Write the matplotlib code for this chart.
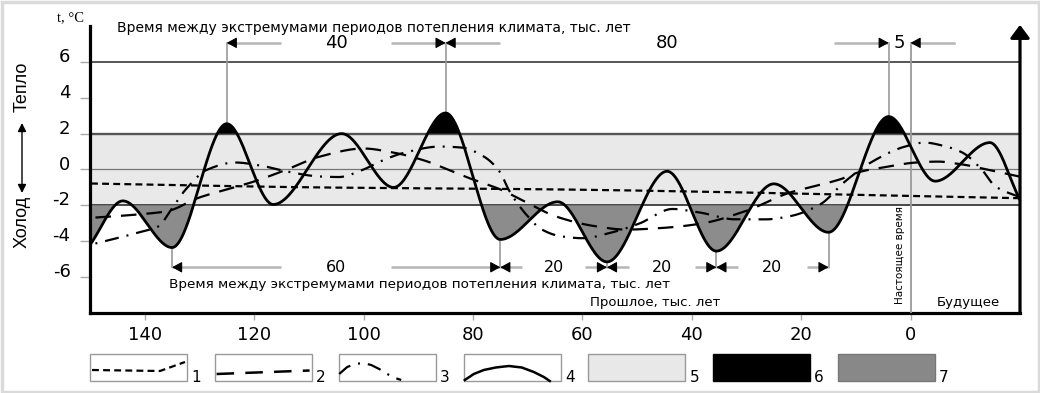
# Колебания температуры за последние 150 тыс. лет и прогноз на 20 тыс. лет вперёд

import numpy as np
import matplotlib
matplotlib.use('Agg')
import matplotlib.pyplot as plt
from matplotlib.patches import Rectangle
from matplotlib.transforms import ScaledTranslation

plt.rcParams['font.family'] = ['DejaVu Sans']

# Данные, снятые с исходного рисунка (тыс. лет назад, °C)
# 4 - сплошная кривая
age_4 = [150, 144, 135, 125, 116.5, 104, 94.5, 85, 75, 64.5, 55.5, 44.5, 35.5, 25, 15, 4, -4.5, -14.5, -20]
temp_4 = [-4.2, -1.75, -4.35, 2.55, -1.95, 2.0, -1.0, 3.15, -3.9, -1.8, -5.15, -0.1, -4.55, -0.8, -3.5, 2.95, -0.65, 1.5, -1.7]

# 1 - короткий пунктир
age_1 = [150, 108, 65, 22, -20]
temp_1 = [-0.78, -1.0, -1.11, -1.33, -1.6]

# 2 - длинный пунктир
age_2 = [150, 141, 136, 130, 125, 120, 114, 108, 100, 94.5, 89.5, 80, 75, 69.5, 65, 57.5, 52, 45, 38, 30, 22, 18.5, 13, 9, 4, -1, -5, -9.5, -14, -20]
temp_2 = [-2.7, -2.5, -2.33, -1.56, -1.11, -0.67, 0.0, 0.72, 1.17, 0.94, 0.56, -0.56, -1.11, -1.94, -2.6, -3.17, -3.35, -3.25, -3.0, -2.3, -1.28, -1.0, -0.56, -0.11, 0.17, 0.39, 0.44, 0.28, 0.0, -0.4]

# 3 - штрихпунктир
age_3 = [150, 141, 137.5, 135, 132.5, 128.5, 123.5, 118, 114, 108, 104.5, 100, 97, 92.5, 86, 82, 78, 75, 73.5, 72, 70, 67.5, 64, 60, 54.5, 49.5, 43.5, 38.5, 32, 26.5, 22, 16.5, 12, 7, 1, -2.5, -6.5, -9.5, -13, -15.5, -20]
temp_3 = [-4.2, -3.5, -3.17, -2.17, -1.11, 0.0, 0.39, 0.17, -0.11, -0.39, -0.42, 0.0, 0.44, 0.94, 1.28, 1.22, 0.72, -0.17, -1.11, -1.83, -2.6, -3.33, -3.72, -3.83, -3.5, -3.0, -2.2, -2.4, -2.78, -2.78, -2.6, -1.94, -0.67, 0.44, 1.28, 1.5, 1.28, 0.94, 0.0, -0.94, -1.55]

# Экстремумы, между которыми проставлены интервалы
warm_ages = [125, 85, 4]
warm_labels = ['40', '80', '5']
cold_ages = [135, 75, 55.5, 35.5, 15]
cold_labels = ['60', '20', '20', '20']

x_ticks = [140, 120, 100, 80, 60, 40, 20, 0]
y_ticks = [6, 4, 2, 0, -2, -4, -6]

legend_labels = ['1', '2', '3', '4', '5', '6', '7']


def smooth(ages, temps, grid):
    # монотонный кубический сплайн (PCHIP) - только чтобы кривая рисовалась плавно
    x = np.asarray(ages, float)[::-1]
    y = np.asarray(temps, float)[::-1]
    h = np.diff(x)
    d = np.diff(y) / h
    m = np.zeros_like(y)
    for k in range(1, len(x) - 1):
        if d[k - 1] * d[k] > 0:
            w1 = 2 * h[k] + h[k - 1]
            w2 = h[k] + 2 * h[k - 1]
            m[k] = (w1 + w2) / (w1 / d[k - 1] + w2 / d[k])
    m[0] = d[0]
    m[-1] = d[-1]
    i = np.clip(np.searchsorted(x, grid) - 1, 0, len(h) - 1)
    t = (grid - x[i]) / h[i]
    return ((2 * t**3 - 3 * t**2 + 1) * y[i] + (t**3 - 2 * t**2 + t) * h[i] * m[i]
            + (-2 * t**3 + 3 * t**2) * y[i + 1] + (t**3 - t**2) * h[i] * m[i + 1])


W, H = 1040, 393
fig = plt.figure(figsize=(W / 100, H / 100), dpi=100)
ax = fig.add_axes([90 / W, 1 - 313 / H, 930 / W, 287 / H])
ax.set_xlim(150, -20)
ax.set_ylim(-8, 8)

grid = np.linspace(-20, 150, 2000)
y4 = smooth(age_4, temp_4, grid)

# фон: зона 5, линии уровней
ax.axhspan(-2, 2, color='#e9e9e9', zorder=0, lw=0)
ax.axhline(6, color='#3a3a3a', lw=1.2, zorder=1)
ax.axhline(2, color='#555555', lw=1.7, zorder=1)
ax.axhline(0, color='#777777', lw=0.9, zorder=1)
ax.axhline(-2, color='#3a3a3a', lw=1.3, zorder=1)

# зоны 6 и 7
ax.fill_between(grid, y4, 2, where=y4 > 2, interpolate=True, color='black', lw=0, zorder=2)
ax.fill_between(grid, y4, -2, where=y4 < -2, interpolate=True, color='#8c8c8c', lw=0, zorder=2)

# кривые
ax.plot(grid, smooth(age_1, temp_1, grid), color='black', lw=1.6, ls=(0, (3.1, 1.9)), zorder=4)
ax.plot(grid, smooth(age_2, temp_2, grid), color='black', lw=1.6, ls=(0, (7.0, 4.5)), zorder=4)
ax.plot(grid, smooth(age_3, temp_3, grid), color='black', lw=1.6, ls=(0, (6.3, 3.6, 0.9, 3.6)), zorder=4)
ax.plot(grid, y4, color='black', lw=2.0, zorder=5)

# размерные линии
gray = '#9a9a9a'
seg_gray = '#b5b5b5'
y_top, y_bot = 7.06, -5.45


def head(tip, to_right, y):
    start = tip + 1.6 if to_right else tip - 1.6
    ax.annotate('', xy=(tip, y), xytext=(start, y),
                arrowprops=dict(arrowstyle='-|>,head_length=0.55,head_width=0.3', color='black',
                                lw=0.8, shrinkA=0, shrinkB=0, mutation_scale=11),
                annotation_clip=False, zorder=6)


def dimension(a_l, a_r, label, seg, y, size):
    ax.plot([a_l, a_l - seg], [y, y], color=seg_gray, lw=1.8, zorder=3, solid_capstyle='butt')
    ax.plot([a_r + seg, a_r], [y, y], color=seg_gray, lw=1.8, zorder=3, solid_capstyle='butt')
    head(a_l, False, y)
    head(a_r, True, y)
    ax.text((a_l + a_r) / 2, y, label, ha='center', va='center', fontsize=size, zorder=6)


for a in warm_ages:
    ax.plot([a, a], [temp_4[age_4.index(a)], y_top], color=gray, lw=1.2, zorder=3)
for a in cold_ages:
    ax.plot([a, a], [temp_4[age_4.index(a)], y_bot], color=gray, lw=1.2, zorder=3)
ax.plot([0, 0], [y_top, -8], color=gray, lw=1.3, zorder=3)

for k in range(2):
    dimension(warm_ages[k], warm_ages[k + 1], warm_labels[k], 10, y_top, 13)
ax.plot([0, -8], [y_top, y_top], color=seg_gray, lw=1.8, zorder=3)
head(0, False, y_top)
ax.text(warm_ages[2] / 2, y_top, warm_labels[2], ha='center', va='center', fontsize=13, zorder=6)

for k, seg in enumerate([20, 4, 4, 4]):
    dimension(cold_ages[k], cold_ages[k + 1], cold_labels[k], seg, y_bot, 11.5)

note = 'Время между экстремумами периодов потепления климата, тыс. лет'
ax.text(145.1, 7.89, note, fontsize=10, ha='left', va='center', clip_on=False)
ax.text(135.6, -6.42, note, fontsize=9.7, ha='left', va='center')
ax.text(34.8, -7.4, 'Прошлое, тыс. лет', fontsize=9.5, ha='right', va='center')
ax.text(-10.5, -7.4, 'Будущее', fontsize=9.5, ha='center', va='center')
ax.text(1.9, -4.75, 'Настоящее время', fontsize=7.5, rotation=90, ha='center', va='center')

# оси
for s in ['top', 'right']:
    ax.spines[s].set_visible(False)
for s in ['left', 'bottom']:
    ax.spines[s].set_linewidth(2.3)
ax.annotate('', xy=(1, 1.004), xytext=(1, 0), xycoords='axes fraction',
            arrowprops=dict(arrowstyle='-|>,head_length=0.6,head_width=0.45', color='black',
                            lw=2.3, shrinkA=0, shrinkB=0, mutation_scale=13),
            annotation_clip=False)

ax.set_xticks(x_ticks)
ax.set_xticklabels([str(v) for v in x_ticks])
ax.set_yticks(y_ticks)
ax.set_yticklabels([str(v) for v in y_ticks])
ax.tick_params(axis='x', length=5, width=1, color='#aaaaaa', pad=4, labelsize=13)
ax.tick_params(axis='y', length=7, width=1, color='#aaaaaa', pad=7, labelsize=13)
for lab in ax.get_yticklabels():
    lab.set_transform(lab.get_transform() + ScaledTranslation(0, 5 / 72, fig.dpi_scale_trans))

# подписи слева
fig.text(57 / W, 1 - 18 / H, 't, °C', family='Liberation Serif', fontsize=10.5, va='center')
fig.text(22 / W, 1 - 87 / H, 'Тепло', family=['Liberation Sans Narrow', 'Liberation Sans'],
         fontsize=13, rotation=90, ha='center', va='center')
fig.text(22 / W, 1 - 222 / H, 'Холод', family=['Liberation Sans Narrow', 'Liberation Sans'],
         fontsize=13, rotation=90, ha='center', va='center')

# слой для легенды и рамки (в пикселях)
lax = fig.add_axes([0, 0, 1, 1])
lax.set_xlim(0, W)
lax.set_ylim(H, 0)
lax.axis('off')
lax.patch.set_visible(False)
lax.add_patch(Rectangle((1.5, 1.5), W - 3, H - 3, fill=False, ec='#dadada', lw=2.5))
lax.annotate('', xy=(22, 123), xytext=(22, 193),
             arrowprops=dict(arrowstyle='<|-|>,head_length=0.5,head_width=0.25', color='black',
                             lw=1.0, shrinkA=0, shrinkB=0, mutation_scale=10))

# легенда
bw, bh, by = 97, 27, 354
faces = ['white', 'white', 'white', 'white', '#e8e8e8', 'black', '#888888']
edges = ['#999999'] * 5 + ['black', '#777777']
for i, lab in enumerate(legend_labels):
    x0 = 90 + i * 124.6
    lax.add_patch(Rectangle((x0, by), bw, bh, fc=faces[i], ec=edges[i], lw=1.0))
    lax.text(x0 + bw + 4, by + bh - 4, lab, fontsize=11, ha='left', va='center')
    if i == 0:
        lax.plot([x0 + 2, x0 + 70, x0 + 95], [by + 16, by + 17, by + 8], color='black', lw=1.6,
                 ls=(0, (3.1, 1.9)))
    elif i == 1:
        lax.plot([x0 + 2, x0 + 95], [by + 20, by + 16.5], color='black', lw=1.8, ls=(0, (7.0, 4.5)))
    elif i == 2:
        u = [0, 8, 16, 24, 32, 40, 48, 56, 62]
        v = [20, 13, 10, 9, 11, 15, 20, 24, 26]
        lax.plot([x0 + a for a in u], [by + b for b in v], color='black', lw=1.6,
                 ls=(0, (6.3, 3.6, 0.9, 3.6)))
    elif i == 3:
        u = [1, 10, 20, 32, 45, 58, 70, 80, 86]
        v = [26, 20, 16, 13.5, 12, 13.5, 18, 23, 27]
        lax.plot([x0 + a for a in u], [by + b for b in v], color='black', lw=1.8)

fig.savefig('out.png', dpi=100)
